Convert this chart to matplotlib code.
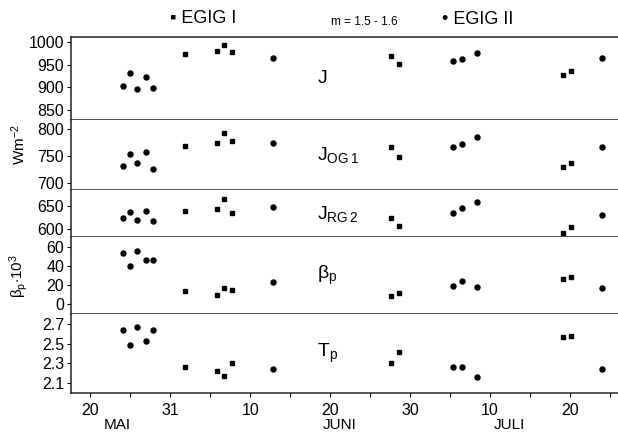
import matplotlib
matplotlib.use("Agg")
import matplotlib.pyplot as plt

plt.rcParams['font.family'] = ['Liberation Sans', 'DejaVu Sans']
plt.rcParams['mathtext.fontset'] = 'custom'
plt.rcParams['mathtext.rm'] = 'Liberation Sans'
plt.rcParams['mathtext.it'] = 'Liberation Sans'

# x = tage (20 = 20. Mai, Skala ~5 Tage je Strich)
x_egig1 = [31.9, 35.9, 36.75, 37.75, 57.6, 58.6, 79.1, 80.1]
x_egig2 = [24.1, 25.0, 25.9, 27.0, 27.9, 42.9, 65.4, 66.5, 68.4, 84.0]

# Werte EGIG I (Quadrate)
J_1 = [973, 980, 993, 978, 969, 951, 928, 937]
JOG_1 = [769, 774, 793, 778, 767, 748, 730, 737]
JRG_1 = [639, 644, 665, 635, 624, 607, 591, 604]
beta_1 = [13.7, 9.5, 16.8, 14.7, 8.4, 11.6, 26, 28.4]
Tp_1 = [2.26, 2.22, 2.17, 2.30, 2.30, 2.42, 2.57, 2.58]

# Werte EGIG II (Punkte)
J_2 = [904, 931, 897, 924, 899, 964, 958, 962, 975, 964]
JOG_2 = [731, 755, 737, 757, 726, 774, 767, 772, 785, 767]
JRG_2 = [624, 637, 620, 639, 617, 648, 635, 646, 659, 632]
beta_2 = [53.7, 40, 55.8, 46.3, 46, 23, 19, 24, 18, 16.8]
Tp_2 = [2.64, 2.49, 2.67, 2.53, 2.64, 2.24, 2.26, 2.26, 2.16, 2.24]

xticks = [20, 25, 30, 35, 40, 45, 50, 55, 60, 65, 70, 75, 80, 85]
xlabpos = [20, 30, 40, 50, 60, 70, 80]
xlabels = ['20', '31', '10', '20', '30', '10', '20']

panels = [
    (J_1, J_2, (828, 1011), [850, 900, 950, 1000], r'$\mathrm{J}$'),
    (JOG_1, JOG_2, (687, 817), [700, 750, 800], r'$\mathrm{J}_{\mathrm{OG\,1}}$'),
    (JRG_1, JRG_2, (583, 685), [600, 650], r'$\mathrm{J}_{\mathrm{RG\,2}}$'),
    (beta_1, beta_2, (-10.5, 70.5), [0, 20, 40, 60], r'$\mathrm{\beta}_{\mathrm{p}}$'),
    (Tp_1, Tp_2, (2.0, 2.8), [2.1, 2.3, 2.5, 2.7], r'$\mathrm{T}_{\mathrm{p}}$'),
]

fig = plt.figure(figsize=(6.18, 4.32), dpi=100)
gs = fig.add_gridspec(5, 1, height_ratios=[83, 70, 47, 77, 79], hspace=0,
                      left=0.115, right=1.0, top=0.914, bottom=0.090)

axes = []
for i, (y1, y2, ylim, yt, name) in enumerate(panels):
    ax = fig.add_subplot(gs[i])
    ax.plot(x_egig1, y1, 's', color='black', markersize=3.2)
    ax.plot(x_egig2, y2, 'o', color='black', markersize=3.6)
    ax.set_xlim(17.6, 86)
    ax.set_ylim(*ylim)
    ax.set_yticks(yt)
    if i == 4:
        ax.set_yticklabels(['%.1f' % v for v in yt])
    ax.spines['right'].set_visible(False)
    if i > 0:
        ax.spines['top'].set_visible(False)
    for s in ax.spines.values():
        s.set_linewidth(1.1)
        s.set_color('#222222')
    ax.tick_params(axis='y', labelsize=11.5, length=3, pad=2)
    ax.text(0.45, 0.5, name, transform=ax.transAxes, fontsize=14,
            ha='left', va='center')
    if i < 4:
        ax.tick_params(axis='x', bottom=False, labelbottom=False)
    axes.append(ax)

axb = axes[-1]
axb.set_xticks(xticks)
axb.set_xticklabels([xlabels[xlabpos.index(t)] if t in xlabpos else '' for t in xticks])
axb.tick_params(axis='x', labelsize=11.5, length=3, direction='out', pad=4)

fig.text(0.19, 0.008, 'MAI', fontsize=11, ha='center')
fig.text(0.55, 0.008, 'JUNI', fontsize=11, ha='center')
fig.text(0.825, 0.008, 'JULI', fontsize=11, ha='center')

fig.text(0.03, 0.665, r'Wm$^{\mathrm{-2}}$', rotation=90, fontsize=11,
         ha='center', va='center')
fig.text(0.03, 0.36, r'$\mathrm{\beta}_{\mathrm{p}}$$\cdot$10$^{\mathrm{3}}$',
         rotation=90, fontsize=11, ha='center', va='center')

fig.text(0.275, 0.957, u'\u25aa EGIG I', fontsize=13, ha='left', va='center')
fig.text(0.535, 0.948, 'm = 1.5 - 1.6', fontsize=8.5, ha='left', va='center')
fig.text(0.715, 0.955, u'\u2022 EGIG II', fontsize=13, ha='left', va='center')

fig.savefig('out.png', dpi=100)
